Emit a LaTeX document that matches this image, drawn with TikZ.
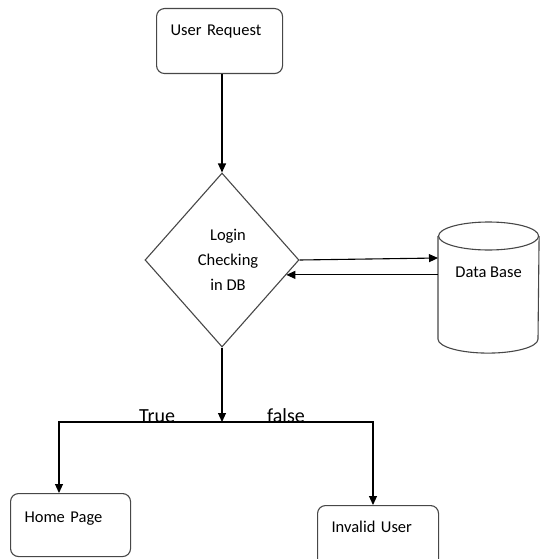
\documentclass[tikz,border=0pt]{standalone}
\usepackage{fontspec}
\setmainfont{Carlito}
\usetikzlibrary{shapes.geometric,arrows.meta,calc}

\begin{document}
\begin{tikzpicture}[
  x=1pt, y=-1pt,
  line width=1.1pt,
  txt/.style={font=\fontsize{16.5}{25}\selectfont},
  lbl/.style={font=\fontsize{20}{24}\selectfont, inner sep=0pt, anchor=base},
  box/.style={draw=black!72, rounded corners=8pt, inner ysep=0pt, inner xsep=14pt,
              align=left, anchor=north west, txt},
  arr/.style={-{Triangle[length=9pt,width=8pt]}, draw=black},
]
\useasboundingbox (0,0) rectangle (539,559);

% process boxes (text sits near the top edge)
\node[box, text width=98pt, text height=27pt, text depth=38pt] (ur) at (156,8) {User Request};
\node[box, text width=92pt, text height=29pt, text depth=34pt] (hp) at (10,493) {Home Page};
\node[box, text width=93pt, text height=27pt, text depth=43pt] (iu) at (317,505) {Invalid User};

% decision
\node[diamond, draw=black!72, minimum width=154pt, minimum height=174pt, inner sep=0pt,
      align=center, txt] (dia) at (222,260) {\hspace*{12pt}Login\\\hspace*{12pt}Checking\\\hspace*{12pt}in DB};

% data store
\node[minimum width=100pt, minimum height=130pt, inner sep=0pt, anchor=north west,
      text height=55pt, text depth=75pt, txt] (db) at (438,222) {Data Base};
\draw[draw=black!72]
  ($(db.north west)+(0,14)$) -- ($(db.south west)+(0,-14)$)
  arc[start angle=180, end angle=360, x radius=50pt, y radius=14pt]
  -- ($(db.north east)+(0,14)$);
\draw[draw=black!72] ($(db.north)+(0,14)$) ellipse[x radius=50pt, y radius=14pt];

% connectors
\draw[arr] (dia.north |- ur.south) -- (dia.north);
\coordinate (qin) at ($(db.north west)+(0,36)$);
\draw[arr] (dia.east) -- (qin);
\coordinate (ret) at ($(dia.east)!0.17!(dia.south)$);
\draw[arr] (db.west |- ret) -- (ret);

\coordinate (j) at (222,422);
\draw[arr] (dia.south) -- (j);
\draw[arr] (j) -| ($(hp.north west)+(49,0)$);
\draw[arr] (j) -| ($(iu.north west)+(56,0)$);

\node[lbl] (t) at (157,422) {True};
\node[lbl] (f) at (286,422) {false};
\end{tikzpicture}
\end{document}
